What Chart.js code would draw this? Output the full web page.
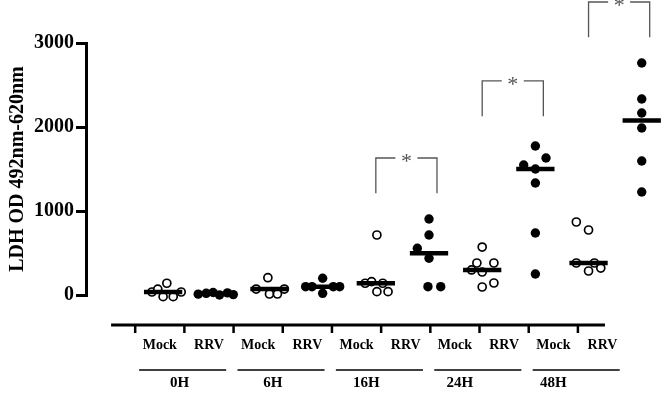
<!DOCTYPE html>
<html>
<head>
<meta charset="utf-8">
<script src="https://cdn.jsdelivr.net/npm/chart.js@4.4.1/dist/chart.umd.min.js"></script>
<style>
  body { margin: 0; background: #fff; }
  #wrap { width: 663px; height: 404px; }
</style>
</head>
<body>
<div id="wrap"><canvas id="chart" width="663" height="404"></canvas></div>
<script>
const groups = ["0H", "6H", "16H", "24H", "48H"];
const conditions = ["Mock", "RRV"];
const yTicks = [0, 1000, 2000, 3000];

// values, one list per time point
const mockValues = [
    [36, 70, 140, -20, -20, 36],
    [71, 206, 12, 12, 71],
    [714, 140, 159, 140, 40, 40],
    [571, 381, 381, 298, 274, 95, 143],
    [869, 774, 381, 381, 286, 321]
];
// horizontal scatter of the points (category units)
const mockJitter = [
    [-0.21, -0.1, 0.07, 0, 0.19, 0.34],
    [-0.25, -0.03, 0, 0.15, 0.28],
    [0.02, -0.2, -0.08, 0.13, 0.02, 0.23],
    [0, -0.1, 0.22, -0.2, 0, 0, 0.22],
    [-0.23, 0, -0.23, 0.11, 0, 0.23]
];
const rrvValues = [
    [10, 20, 30, 0, 25, 5],
    [199, 99, 99, 99, 99, 20],
    [905, 714, 556, 437, 99, 99],
    [1774, 1631, 1548, 1500, 1333, 738, 250],
    [2762, 2333, 2167, 1988, 1595, 1226]
];
const rrvJitter = [
    [-0.34, -0.19, -0.06, 0.06, 0.21, 0.32],
    [0, -0.32, -0.2, 0.2, 0.32, 0],
    [0, 0, -0.22, 0, -0.02, 0.22],
    [0, 0.2, -0.22, 0, 0, 0, 0],
    [0, 0, 0, 0, 0, 0]
];
// significance brackets (top of bracket, in y units), null = none
const sigTop = [null, null, 1631, 2548, 3488];

const median = arr => {
    const s = [...arr].sort((a, b) => a - b);
    const m = Math.floor(s.length / 2);
    return s.length % 2 ? s[m] : (s[m - 1] + s[m]) / 2;
};
const xPos = (k, c) => 2 * k + c + 1;

const medianSets = [];
const pointSets = [];
groups.forEach((g, k) => {
    [mockValues, rrvValues].forEach((vals, c) => {
        const jit = c === 0 ? mockJitter : rrvJitter;
        const cx = xPos(k, c);
        const med = median(vals[k]);
        medianSets.push({
            showLine: true,
            data: [{ x: cx - 0.36, y: med }, { x: cx + 0.36, y: med }],
            borderColor: "#000",
            borderWidth: 4.5,
            pointRadius: 0,
            clip: false
        });
        pointSets.push({
            data: vals[k].map((v, i) => ({ x: cx + jit[k][i], y: v })),
            pointStyle: "circle",
            pointRadius: c === 0 ? 4 : 4.7,
            pointBackgroundColor: c === 0 ? "#fff" : "#000",
            pointBorderColor: "#000",
            pointBorderWidth: c === 0 ? 1.7 : 0,
            clip: false
        });
    });
});

const serif = "'Liberation Serif', 'Times New Roman', serif";

// bottom category axis + significance brackets
const decorations = {
    id: "decorations",
    afterDraw(chart) {
        const ctx = chart.ctx;
        const xs = chart.scales.x;
        const xl = chart.scales.xl;
        const ys = chart.scales.y;
        const base = chart.chartArea.bottom + 30;
        ctx.save();

        // axis line and ticks
        ctx.strokeStyle = "#000";
        ctx.lineWidth = 3;
        ctx.beginPath();
        ctx.moveTo(xl.getPixelForValue(-0.49), base);
        ctx.lineTo(xl.getPixelForValue(9.55), base);
        ctx.stroke();
        ctx.lineWidth = 2.5;
        for (let i = 0; i < groups.length * 2; i++) {
            const px = xl.getPixelForValue(i);
            ctx.beginPath();
            ctx.moveTo(px, base);
            ctx.lineTo(px, base + 8);
            ctx.stroke();
        }

        ctx.fillStyle = "#000";
        ctx.textAlign = "center";
        ctx.textBaseline = "middle";
        ctx.font = "bold 14px " + serif;
        for (let i = 0; i < groups.length * 2; i++) {
            ctx.fillText(conditions[i % 2], xl.getPixelForValue(i + 0.5), base + 20);
        }

        ctx.lineWidth = 1.4;
        ctx.font = "bold 15px " + serif;
        groups.forEach((g, k) => {
            ctx.beginPath();
            ctx.moveTo(xl.getPixelForValue(2 * k + 0.08), base + 45);
            ctx.lineTo(xl.getPixelForValue(2 * k + 1.85), base + 45);
            ctx.stroke();
            ctx.fillText(g, xl.getPixelForValue(2 * k + 0.9 - 0.1 * k), base + 58);
        });

        // brackets
        ctx.strokeStyle = "#555";
        ctx.fillStyle = "#555";
        ctx.lineWidth = 1.3;
        ctx.font = "22px " + serif;
        ctx.textBaseline = "alphabetic";
        sigTop.forEach((top, k) => {
            if (top === null) return;
            const x1 = xs.getPixelForValue(xPos(k, 0));
            const x2 = xs.getPixelForValue(xPos(k, 1) + 0.15);
            const yt = ys.getPixelForValue(top);
            const yb = ys.getPixelForValue(top - 420);
            const mid = (x1 + x2) / 2;
            ctx.beginPath();
            ctx.moveTo(x1, yb);
            ctx.lineTo(x1, yt);
            ctx.lineTo(mid - 11, yt);
            ctx.moveTo(mid + 11, yt);
            ctx.lineTo(x2, yt);
            ctx.lineTo(x2, yb);
            ctx.stroke();
            const m = ctx.measureText("*");
            ctx.fillText("*", mid, yt + (m.actualBoundingBoxAscent - m.actualBoundingBoxDescent) / 2);
        });
        ctx.restore();
    }
};

new Chart(document.getElementById("chart"), {
    type: "scatter",
    data: { datasets: [...medianSets, ...pointSets] },
    options: {
        responsive: false,
        animation: false,
        layout: { autoPadding: false, padding: { left: 0, right: 0, top: 43, bottom: 109 } },
        plugins: { legend: { display: false }, tooltip: { enabled: false } },
        scales: {
            x: { type: "linear", display: false, min: -0.45, max: 10.4 },
            xl: { type: "linear", axis: "x", display: false, min: -1, max: 10.73 },
            y: {
                min: 0,
                max: 3000,
                afterFit: s => { s.width = 86; },
                afterBuildTicks: s => { s.ticks = yTicks.map(v => ({ value: v })); },
                ticks: {
                    color: "#000",
                    padding: 2,
                    callback: v => String(v),
                    font: { family: serif, size: 20, weight: "bold" }
                },
                grid: { drawOnChartArea: false, tickLength: 10, lineWidth: 3, color: "#000" },
                border: { color: "#000", width: 3 },
                title: {
                    display: true,
                    text: "LDH OD 492nm-620nm",
                    color: "#000",
                    padding: { top: 6, bottom: 0 },
                    font: { family: serif, size: 20, weight: "bold" }
                }
            }
        }
    },
    plugins: [decorations]
});
</script>
</body>
</html>
